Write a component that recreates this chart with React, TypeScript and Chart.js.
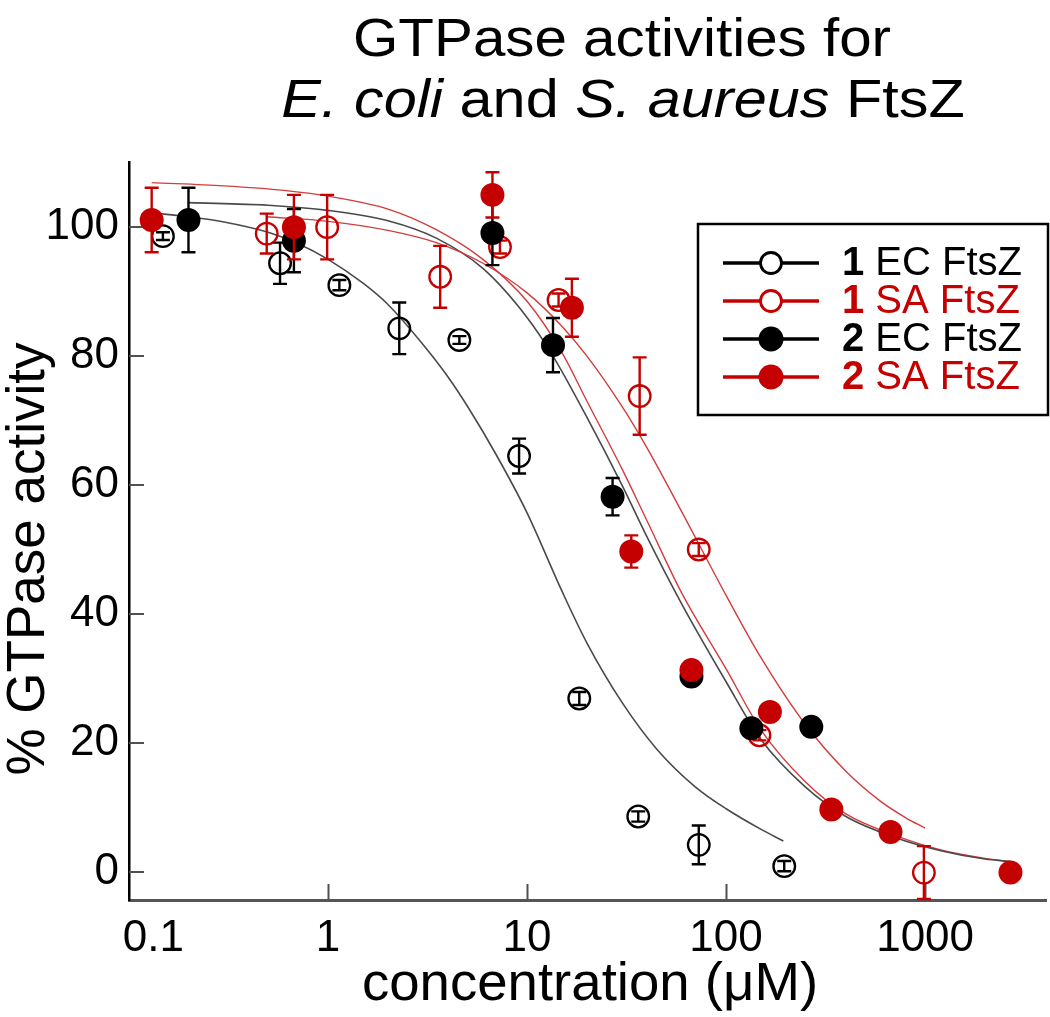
import React, { useEffect, useRef } from "react";
import { Chart, registerables } from "chart.js";

Chart.register(...registerables);

const FONT = "'Liberation Sans', Arial, Helvetica, sans-serif";
const RED = "#c40000";
const BLACK = "#000000";
const CURVE_BLACK = "#4a4a4a";
const CURVE_RED = "#d43c3c";

// ---- ticks ----
const xTickValues = [0.1, 1, 10, 100, 1000];
const xTickLabels = ["\u00a0\u00a0\u00a0\u00a00.1", "1", "10", "100", "1000"];
const yTickValues = [0, 20, 40, 60, 80, 100];

// ---- compound 1, E. coli FtsZ (open black) ----
const ec1Conc = [0.148, 0.574, 1.14, 2.28, 4.57, 9.12, 18.3, 36.2, 72.9, 196];
const ec1Act = [98.6, 94.4, 91.0, 84.3, 82.5, 64.5, 26.9, 8.6, 4.2, 0.9];
const ec1Err = [0.6, 3.2, 0.8, 4.0, 0.6, 2.7, 1.0, 0.8, 3.0, 0.8];

// ---- compound 1, S. aureus FtsZ (open red) ----
const sa1Conc = [0.492, 0.99, 3.66, 7.31, 14.4, 36.8, 72.9, 147, 986];
const sa1Act = [99.0, 100.0, 92.3, 96.9, 88.7, 73.8, 50.0, 21.2, -0.1];
const sa1Err = [3.1, 5.0, 4.8, 1.0, 1.0, 6.0, 1.0, 0.8, 4.1];

// ---- compound 2, E. coli FtsZ (filled black) ----
const ec2Conc = [0.199, 0.674, 6.7, 13.5, 26.9, 67, 134, 268];
const ec2Act = [101.1, 97.9, 99.1, 81.7, 58.2, 30.3, 22.3, 22.5];
const ec2Err = [5.0, 4.9, 5.0, 4.2, 2.9, 0, 0, 0];

// ---- compound 2, S. aureus FtsZ (filled red) ----
const sa2Conc = [0.13, 0.674, 6.7, 16.8, 33.4, 67, 166, 338, 670, 2685];
const sa2Act = [101.1, 100.0, 105.0, 87.5, 49.7, 31.3, 24.8, 9.7, 6.2, -0.1];
const sa2Err = [5.0, 5.0, 3.5, 4.5, 2.5, 0, 0, 0, 0, 0];

// ---- fitted curves ----
const fitEc1X = [0.13, 0.2, 0.3, 0.5, 0.7, 1, 1.5, 2, 3, 4, 5, 7, 10, 15, 20, 30, 45, 70, 100, 150, 194];
const fitEc1Y = [102.2, 101.6, 100.8, 99.2, 97.5, 95.0, 91.3, 88.0, 81.8, 76.8, 72.3, 64.7, 55.7, 43.5, 35.5, 26.3, 19.0, 13.2, 9.8, 6.6, 4.8];

const fitSa1X = [0.49, 1, 2, 3.5, 6, 10, 15, 20, 30, 40, 60, 100, 150, 250, 400, 600, 800, 1000];
const fitSa1Y = [101.6, 100.9, 99.5, 97.6, 94.4, 89.8, 84.6, 80.0, 72.2, 65.8, 55.8, 42.9, 33.2, 22.9, 15.6, 10.9, 8.4, 6.8];

const fitEc2X = [0.2, 0.5, 1, 2, 3.5, 6, 10, 13.5, 20, 30, 40, 60, 100, 150, 250, 400, 700, 1200, 2000, 2700];
const fitEc2Y = [103.8, 103.4, 102.6, 101.0, 98.3, 93.6, 86.0, 80.0, 70.5, 60.0, 52.0, 41.5, 29.5, 20.5, 13.2, 8.6, 5.4, 3.3, 2.0, 1.6];

const fitSa2X = [0.13, 0.3, 0.6, 1, 2, 3.5, 6, 10, 15, 20, 30, 40, 60, 100, 150, 250, 400, 700, 1200, 2000, 2700];
const fitSa2Y = [106.9, 106.4, 105.7, 104.8, 102.8, 99.6, 95.0, 88.5, 80.5, 73.0, 62.5, 54.5, 43.2, 31.5, 22.0, 14.0, 9.0, 5.7, 3.4, 2.1, 1.6];

// ---- legend ----
const legendNums = ["1", "1", "2", "2"];
const legendNames = [" EC FtsZ", " SA FtsZ", " EC FtsZ", " SA FtsZ"];
const legendColors = [BLACK, RED, BLACK, RED];
const legendFilled = [false, false, true, true];

const toPts = (xs: number[], ys: number[]) => xs.map((x, i) => ({ x, y: ys[i] }));

function drawStretched(ctx: any, segs: [string, boolean][], cx: number, baseline: number, size: number, sx: number) {
  let total = 0;
  segs.forEach(([s, it]) => {
    ctx.font = `${it ? "italic " : ""}${size}px ${FONT}`;
    total += ctx.measureText(s).width;
  });
  ctx.save();
  ctx.translate(cx, baseline);
  ctx.scale(sx, 1);
  ctx.textAlign = "left";
  ctx.textBaseline = "alphabetic";
  let x = -total / 2;
  segs.forEach(([s, it]) => {
    ctx.font = `${it ? "italic " : ""}${size}px ${FONT}`;
    ctx.fillText(s, x, 0);
    x += ctx.measureText(s).width;
  });
  ctx.restore();
}

const decorPlugin = {
  id: "decor",
  beforeDatasetsDraw(chart: any) {
    const ctx = chart.ctx;
    const xs = chart.scales.x;
    const ys = chart.scales.y;
    const area = chart.chartArea;
    ctx.save();
    ctx.strokeStyle = "#505050";
    ctx.lineWidth = 2;
    ctx.beginPath();
    xs.ticks.forEach((t: any) => {
      const px = Math.round(xs.getPixelForValue(t.value)) + 0.5;
      if (px <= area.left + 3) return;
      ctx.moveTo(px, area.bottom);
      ctx.lineTo(px, area.bottom - 16);
    });
    ys.ticks.forEach((t: any) => {
      const py = Math.round(ys.getPixelForValue(t.value));
      ctx.moveTo(area.left, py);
      ctx.lineTo(area.left + 15, py);
    });
    ctx.stroke();
    ctx.restore();
  },
  beforeDatasetDraw(chart: any, args: any) {
    const ds = chart.data.datasets[args.index];
    const errs: number[] | undefined = ds.errors;
    if (!errs) return;
    const ctx = chart.ctx;
    const xs = chart.scales.x;
    const ys = chart.scales.y;
    ctx.save();
    ctx.strokeStyle = ds.pointBorderColor;
    ctx.lineWidth = 2.4;
    ctx.beginPath();
    ds.data.forEach((p: any, i: number) => {
      const e = errs[i];
      if (!e) return;
      const px = xs.getPixelForValue(p.x);
      const yt = ys.getPixelForValue(p.y + e);
      const yb = ys.getPixelForValue(p.y - e);
      ctx.moveTo(px, yt);
      ctx.lineTo(px, yb);
      ctx.moveTo(px - 7, yt);
      ctx.lineTo(px + 7, yt);
      ctx.moveTo(px - 7, yb);
      ctx.lineTo(px + 7, yb);
    });
    ctx.stroke();
    ctx.restore();
  },
  afterDraw(chart: any) {
    const ctx = chart.ctx;
    ctx.save();
    ctx.fillStyle = "#000";
    // Title (two lines, species names in italics)
    drawStretched(ctx, [["GTPase activities for", false]], 622, 56, 54, 1.08);
    drawStretched(
      ctx,
      [
        ["E. coli", true],
        [" and ", false],
        ["S. aureus", true],
        [" FtsZ", false],
      ],
      623,
      117,
      54,
      1.1
    );

    // x axis title
    drawStretched(ctx, [["concentration (\u03bcM)", false]], 590, 1000, 53, 1.03);

    // y axis title
    ctx.save();
    ctx.translate(44, 559);
    ctx.rotate(-Math.PI / 2);
    ctx.textAlign = "center";
    ctx.textBaseline = "alphabetic";
    ctx.font = `53px ${FONT}`;
    ctx.fillText("% GTPase activity", 0, 0);
    ctx.restore();

    // Legend
    const bx = 698, by = 224, bw = 350, bh = 191;
    ctx.fillStyle = "#fff";
    ctx.fillRect(bx, by, bw, bh);
    ctx.strokeStyle = "#000";
    ctx.lineWidth = 2.5;
    ctx.strokeRect(bx, by, bw, bh);
    const rowY = [263, 301, 339, 377];
    legendNums.forEach((n, i) => {
      const y = rowY[i];
      const c = legendColors[i];
      ctx.strokeStyle = c;
      ctx.lineWidth = 3.5;
      ctx.beginPath();
      ctx.moveTo(723, y);
      ctx.lineTo(819, y);
      ctx.stroke();
      ctx.beginPath();
      if (legendFilled[i]) {
        ctx.fillStyle = c;
        ctx.arc(771, y, 12.5, 0, Math.PI * 2);
        ctx.fill();
      } else {
        ctx.fillStyle = "#fff";
        ctx.arc(771, y, 10.5, 0, Math.PI * 2);
        ctx.fill();
        ctx.lineWidth = 2.8;
        ctx.stroke();
      }
      ctx.fillStyle = c;
      ctx.textAlign = "left";
      ctx.textBaseline = "middle";
      ctx.font = `bold 40px ${FONT}`;
      ctx.fillText(n, 842, y + 1);
      const w = ctx.measureText(n).width;
      ctx.font = `40px ${FONT}`;
      ctx.fillText(legendNames[i], 842 + w, y + 1);
    });
    ctx.restore();
  },
};

export default function App() {
  const ref = useRef<HTMLCanvasElement>(null);
  useEffect(() => {
    document.body.style.margin = "0";
    const curve = (xs: number[], ys: number[], color: string, w: number) => ({
      data: toPts(xs, ys),
      showLine: true,
      borderColor: color,
      borderWidth: w,
      pointRadius: 0,
      cubicInterpolationMode: "monotone",
      fill: false,
      order: 10,
    });
    const marks = (xs: number[], ys: number[], errs: number[], color: string, filled: boolean, order: number) => ({
      data: toPts(xs, ys),
      showLine: false,
      errors: errs,
      pointStyle: "circle",
      pointRadius: filled ? 12 : 10.8,
      pointBorderWidth: filled ? 0 : 2.3,
      pointBackgroundColor: filled ? color : "rgba(255,255,255,0)",
      pointBorderColor: color,
      borderColor: color,
      backgroundColor: color,
      order,
    });
    const chart = new Chart(ref.current as HTMLCanvasElement, {
      type: "scatter",
      data: {
        datasets: [
          curve(fitEc1X, fitEc1Y, CURVE_BLACK, 1.6),
          curve(fitSa1X, fitSa1Y, CURVE_RED, 1.4),
          curve(fitEc2X, fitEc2Y, CURVE_BLACK, 1.6),
          curve(fitSa2X, fitSa2Y, CURVE_RED, 1.4),
          marks(ec1Conc, ec1Act, ec1Err, BLACK, false, 4),
          marks(sa1Conc, sa1Act, sa1Err, RED, false, 3),
          marks(ec2Conc, ec2Act, ec2Err, BLACK, true, 2),
          marks(sa2Conc, sa2Act, sa2Err, RED, true, 1),
        ] as any,
      },
      options: {
        animation: false,
        responsive: false,
        maintainAspectRatio: false,
        layout: { autoPadding: false, padding: { top: 162, right: 4, left: 0, bottom: 0 } },
        plugins: {
          legend: { display: false },
          tooltip: { enabled: false },
          title: { display: false },
        },
        scales: {
          x: {
            type: "logarithmic",
            min: 0.1,
            max: 4050,
            afterBuildTicks: (s: any) => {
              s.ticks = xTickValues.map((v) => ({ value: v }));
            },
            afterFit: (s: any) => {
              s.height = 117;
              s.paddingLeft = 0;
              s.paddingRight = 0;
            },
            grid: { display: false, drawTicks: false },
            border: { display: true, color: "#555", width: 3 },
            ticks: {
              color: "#000",
              font: { family: FONT, size: 44 },
              padding: 12,
              maxRotation: 0,
              autoSkip: false,
              callback: (v: any) => {
                const i = xTickValues.indexOf(Number(v));
                return i >= 0 ? xTickLabels[i] : "";
              },
            },
          },
          y: {
            type: "linear",
            min: -4.35,
            max: 110.1,
            afterBuildTicks: (s: any) => {
              s.ticks = yTickValues.map((v) => ({ value: v }));
            },
            afterFit: (s: any) => {
              s.width = 129;
              s.paddingTop = 0;
              s.paddingBottom = 0;
            },
            grid: { display: false, drawTicks: false },
            border: { display: true, color: "#000", width: 2.5 },
            ticks: {
              color: "#000",
              font: { family: FONT, size: 44 },
              padding: 10,
              callback: (v: any) => String(v),
            },
          },
        },
      } as any,
      plugins: [decorPlugin],
    });
    return () => chart.destroy();
  }, []);
  return (
    <div style={{ width: 1050, height: 1017 }}>
      <canvas ref={ref} width={1050} height={1017} style={{ display: "block" }} />
    </div>
  );
}
